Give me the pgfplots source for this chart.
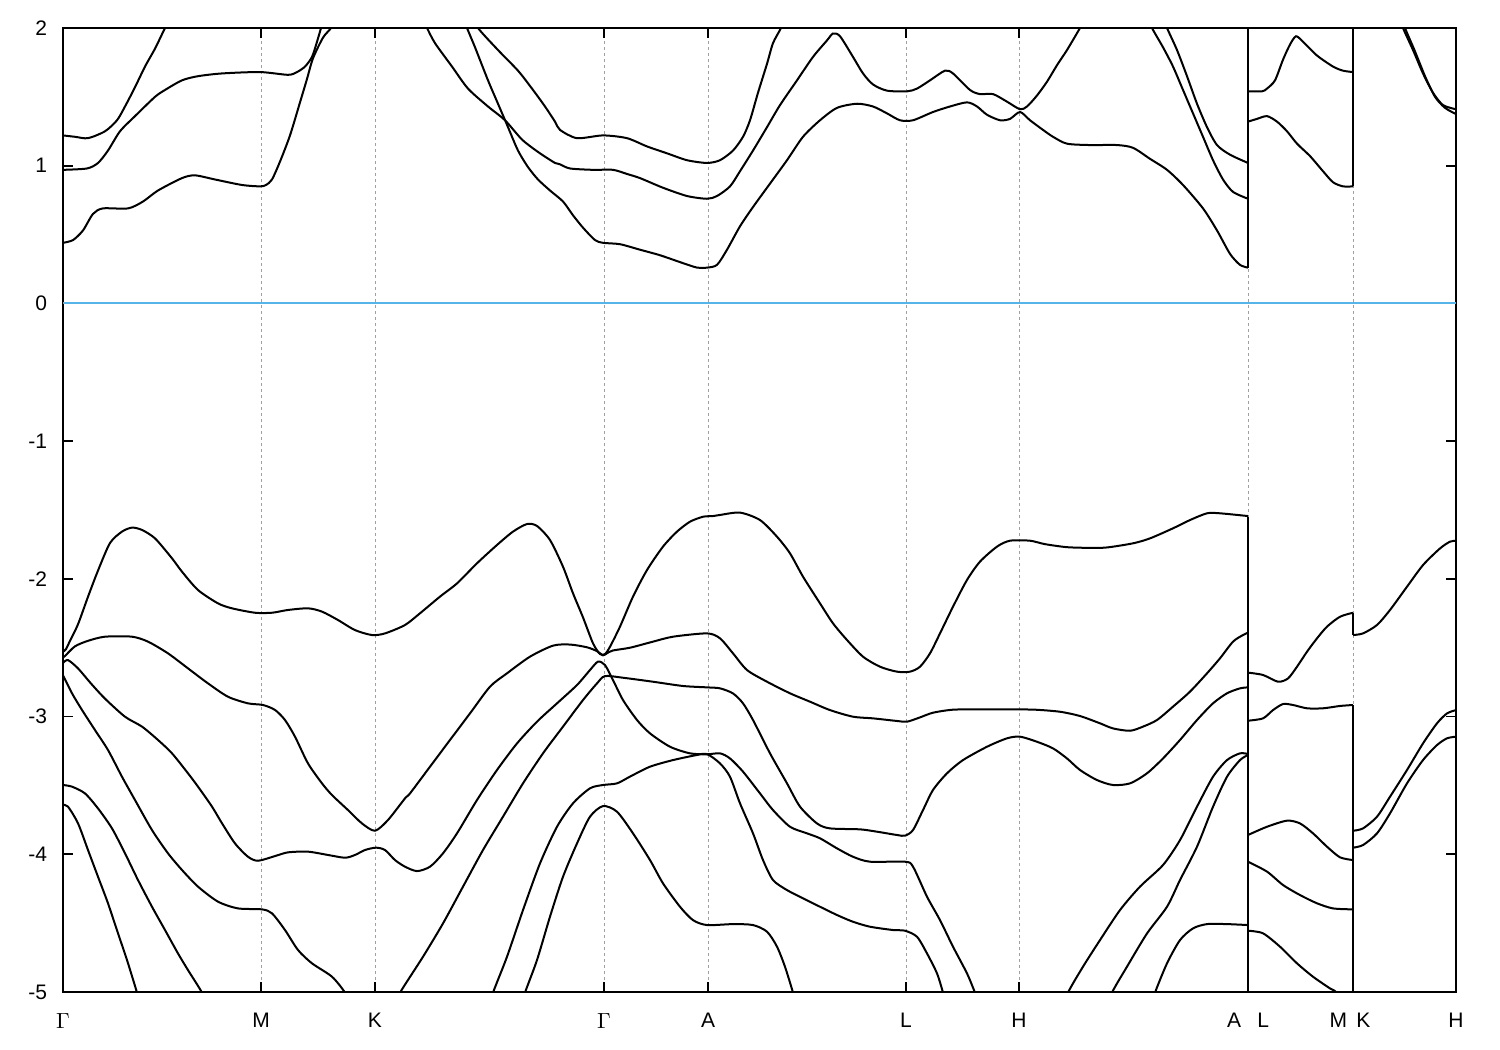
\documentclass[border=0pt]{standalone}
\usepackage{fontspec}
\setmainfont{Liberation Sans}
\usepackage{pgfplots}
\pgfplotsset{compat=1.18}
\definecolor{zeroblue}{RGB}{86,180,233}
\definecolor{gridgray}{RGB}{160,160,160}
\pgfplotsset{band/.style={black, line width=1pt, smooth, tension=0.45, mark=none}}
\begin{document}
\begin{tikzpicture}
\useasboundingbox (0,0) rectangle (750pt,525pt);
\begin{axis}[
  at={(31.5pt,29pt)}, anchor=south west,
  scale only axis, width=696.5pt, height=482pt,
  xmin=63, xmax=1456, ymin=-5, ymax=2,
  axis line style={line width=1pt},
  xtick={63,261,375,604,708,906,1019,1248,1353,1456},
  xticklabels={$\Gamma$,M,K,$\Gamma$,A,L,H,{\llap{A\hspace{3.5pt}}\rlap{\hspace{4.7pt}L}},{\llap{M\hspace{3pt}}\rlap{\hspace{1.7pt}K}},H},
  ytick={-5,-4,-3,-2,-1,0,1,2},
  yticklabels={-5,-4,-3,-2,-1,0,1,2},
  tick align=inside, major tick length=5pt,
  tick style={black, line width=0.8pt},
  xmajorgrids,
  grid style={gridgray, line width=0.5pt, dash pattern=on 1.5pt off 1.5pt},
  ticklabel style={font=\fontsize{10.5}{12}\selectfont},
  yticklabel style={xshift=-4.5pt},
  xticklabel style={yshift=-7pt},
  clip=true,
]
% zero line
\addplot[zeroblue, line width=1pt] coordinates {(63,0) (1456,0)};
% vertical jump lines
\addplot[black, line width=1pt] coordinates {(1248,0.26) (1248,2.05)};
\addplot[black, line width=1pt] coordinates {(1248,-1.55) (1248,-5.05)};
\addplot[black, line width=1pt] coordinates {(1353,0.85) (1353,2.05)};
\addplot[black, line width=1pt] coordinates {(1353,-2.246) (1353,-2.408)};
\addplot[black, line width=1pt] coordinates {(1353,-2.916) (1353,-5.05)};
% ---------------- conduction bands ----------------
\addplot[band] coordinates {(63,0.44)(73,0.46)(83,0.53)(93,0.65)(103,0.69)(128,0.69)(143,0.74)(158,0.82)(182,0.91)(195,0.93)(215,0.90)(242,0.86)(260,0.85)(266,0.86)(272,0.90)(280,1.03)(290,1.22)(300,1.46)(307,1.63)(313,1.78)(323,1.93)(331,2.0)(336,2.08)};
\addplot[band] coordinates {(63,0.97)(87,0.98)(98,1.02)(108,1.11)(120,1.25)(135,1.36)(155,1.50)(165,1.55)(182,1.62)(198,1.65)(222,1.67)(260,1.68)(288,1.66)(297,1.68)(305,1.72)(312,1.79)(317,1.90)(321,2.0)(324,2.08)};
\addplot[band] coordinates {(63,1.22)(75,1.21)(88,1.20)(105,1.25)(117,1.33)(125,1.43)(135,1.57)(145,1.72)(155,1.85)(165,2.0)(170,2.07)};
\addplot[band] coordinates {(420,2.1)(427,2.0)(435,1.89)(452,1.72)(468,1.56)(488,1.43)(505,1.33)(522,1.19)(538,1.10)(555,1.02)(560,1.01)(570,0.98)(593,0.97)(613,0.97)(627,0.94)(640,0.91)(663,0.84)(687,0.78)(707,0.76)(717,0.78)(730,0.85)(740,0.96)(753,1.11)(767,1.28)(780,1.44)(797,1.62)(813,1.79)(827,1.91)(833,1.96)(840,1.94)(853,1.79)(863,1.67)(873,1.59)(887,1.545)(907,1.54)(917,1.56)(930,1.62)(945,1.69)(953,1.67)(970,1.55)(980,1.52)(993,1.52)(1007,1.465)(1020,1.41)(1027,1.43)(1037,1.51)(1047,1.61)(1057,1.73)(1067,1.84)(1080,2.0)(1086,2.08)};
\addplot[band] coordinates {(462,2.1)(467,2.0)(475,1.86)(488,1.62)(498,1.45)(508,1.28)(518,1.11)(528,0.99)(538,0.90)(550,0.82)(563,0.74)(573,0.64)(583,0.55)(595,0.46)(603,0.44)(620,0.43)(640,0.39)(660,0.35)(680,0.30)(697,0.26)(707,0.26)(717,0.28)(727,0.39)(740,0.56)(753,0.70)(770,0.87)(787,1.04)(803,1.21)(820,1.33)(837,1.42)(857,1.45)(873,1.43)(887,1.38)(900,1.33)(913,1.33)(933,1.39)(950,1.43)(967,1.46)(977,1.43)(987,1.37)(1000,1.33)(1010,1.34)(1020,1.39)(1030,1.33)(1043,1.26)(1053,1.21)(1067,1.16)(1090,1.15)(1117,1.15)(1133,1.13)(1150,1.05)(1167,0.97)(1183,0.86)(1203,0.69)(1217,0.53)(1230,0.36)(1240,0.28)(1248,0.26)};
\addplot[band] coordinates {(472,2.1)(478,2.0)(498,1.84)(518,1.69)(532,1.56)(545,1.43)(555,1.32)(560,1.26)(577,1.20)(603,1.22)(627,1.20)(647,1.14)(667,1.09)(687,1.04)(707,1.02)(720,1.04)(733,1.11)(743,1.21)(750,1.33)(758,1.53)(767,1.74)(773,1.89)(781,2.0)(785,2.08)};
\addplot[band] coordinates {(1148,2.08)(1152,2.0)(1163,1.86)(1173,1.72)(1183,1.55)(1193,1.38)(1203,1.21)(1213,1.04)(1223,0.90)(1233,0.81)(1248,0.76)};
\addplot[band] coordinates {(1163,2.08)(1167,2.0)(1177,1.84)(1187,1.65)(1197,1.45)(1207,1.28)(1217,1.15)(1230,1.08)(1248,1.02)};
\addplot[band] coordinates {(1248,1.54)(1262,1.54)(1267,1.56)(1275,1.62)(1283,1.77)(1290,1.88)(1296,1.94)(1303,1.90)(1317,1.80)(1333,1.72)(1343,1.69)(1353,1.68)};
\addplot[band] coordinates {(1248,1.32)(1257,1.34)(1267,1.36)(1277,1.32)(1287,1.25)(1297,1.16)(1310,1.07)(1323,0.96)(1333,0.88)(1343,0.85)(1353,0.85)};
\addplot[band] coordinates {(1400,2.08)(1403,2.0)(1413,1.84)(1423,1.67)(1433,1.53)(1443,1.44)(1456,1.41)};
\addplot[band] coordinates {(1402,2.08)(1405,2.0)(1415,1.83)(1425,1.65)(1435,1.50)(1445,1.42)(1456,1.375)};
% ---------------- valence bands ----------------
\addplot[band] coordinates {(63,-2.53)(66,-2.51)(70,-2.45)(78,-2.33)(88,-2.13)(98,-1.94)(110,-1.74)(122,-1.657)(132,-1.628)(142,-1.645)(155,-1.706)(172,-1.851)(182,-1.948)(198,-2.081)(218,-2.178)(232,-2.214)(255,-2.246)(272,-2.246)(288,-2.226)(308,-2.214)(322,-2.238)(338,-2.299)(355,-2.372)(372,-2.408)(385,-2.396)(405,-2.335)(420,-2.250)(440,-2.129)(457,-2.033)(477,-1.887)(497,-1.754)(513,-1.657)(527,-1.602)(537,-1.616)(550,-1.718)(563,-1.912)(573,-2.105)(583,-2.28)(593,-2.468)(600,-2.546)(605,-2.546)(610,-2.493)(620,-2.347)(633,-2.129)(647,-1.936)(663,-1.766)(677,-1.657)(690,-1.585)(703,-1.549)(713,-1.544)(720,-1.536)(740,-1.519)(760,-1.573)(777,-1.694)(790,-1.815)(803,-1.984)(820,-2.178)(833,-2.323)(847,-2.444)(863,-2.565)(880,-2.638)(897,-2.674)(910,-2.674)(920,-2.638)(930,-2.541)(940,-2.396)(953,-2.202)(967,-2.008)(980,-1.875)(997,-1.766)(1010,-1.723)(1030,-1.723)(1045,-1.748)(1067,-1.770)(1090,-1.775)(1107,-1.772)(1133,-1.742)(1150,-1.706)(1173,-1.633)(1190,-1.573)(1207,-1.524)(1220,-1.524)(1248,-1.544)};
\addplot[band] coordinates {(63,-2.57)(65,-2.56)(75,-2.49)(88,-2.45)(105,-2.42)(132,-2.42)(148,-2.456)(168,-2.541)(188,-2.650)(208,-2.759)(228,-2.856)(248,-2.904)(263,-2.916)(275,-2.952)(285,-3.025)(295,-3.146)(308,-3.340)(322,-3.485)(332,-3.570)(348,-3.679)(362,-3.776)(375,-3.829)(388,-3.751)(405,-3.594)(410,-3.558)(430,-3.364)(450,-3.170)(470,-2.977)(490,-2.783)(507,-2.686)(530,-2.565)(553,-2.485)(570,-2.477)(587,-2.497)(597,-2.525)(603,-2.555)(607,-2.54)(613,-2.52)(630,-2.50)(653,-2.456)(673,-2.420)(707,-2.396)(720,-2.432)(733,-2.541)(747,-2.662)(767,-2.747)(790,-2.831)(810,-2.892)(830,-2.953)(853,-3.001)(873,-3.013)(897,-3.032)(907,-3.037)(920,-3.006)(933,-2.972)(953,-2.950)(980,-2.948)(1010,-2.948)(1035,-2.950)(1060,-2.965)(1080,-2.996)(1100,-3.049)(1113,-3.086)(1130,-3.103)(1143,-3.073)(1157,-3.025)(1173,-2.928)(1190,-2.819)(1207,-2.686)(1220,-2.577)(1233,-2.456)(1243,-2.408)(1248,-2.391)};
\addplot[band] coordinates {(63,-2.61)(68,-2.59)(78,-2.65)(91,-2.76)(105,-2.87)(125,-3.001)(142,-3.073)(158,-3.170)(172,-3.267)(188,-3.412)(198,-3.509)(212,-3.654)(222,-3.775)(235,-3.921)(248,-4.018)(258,-4.047)(275,-4.013)(288,-3.986)(308,-3.981)(328,-4.005)(345,-4.025)(355,-4.005)(365,-3.969)(376,-3.952)(385,-3.969)(395,-4.042)(405,-4.090)(417,-4.122)(430,-4.090)(443,-3.993)(457,-3.848)(477,-3.606)(497,-3.388)(517,-3.195)(537,-3.037)(557,-2.904)(577,-2.771)(590,-2.662)(598,-2.601)(605,-2.626)(613,-2.735)(623,-2.880)(637,-3.025)(650,-3.122)(670,-3.219)(690,-3.267)(707,-3.274)(720,-3.267)(730,-3.304)(743,-3.400)(760,-3.558)(773,-3.679)(790,-3.800)(807,-3.848)(820,-3.884)(837,-3.957)(853,-4.018)(870,-4.054)(905,-4.054)(913,-4.090)(927,-4.308)(940,-4.478)(953,-4.671)(967,-4.865)(975,-5.005)(980,-5.1)};
\addplot[band] coordinates {(63,-2.70)(72,-2.831)(82,-2.952)(95,-3.098)(108,-3.243)(122,-3.437)(135,-3.606)(152,-3.824)(168,-3.993)(182,-4.114)(198,-4.235)(218,-4.344)(238,-4.393)(262,-4.400)(272,-4.429)(285,-4.550)(298,-4.695)(312,-4.792)(332,-4.889)(345,-5.005)(350,-5.1)};
\addplot[band] coordinates {(395,-5.1)(400,-5.005)(423,-4.744)(443,-4.502)(463,-4.235)(483,-3.969)(503,-3.727)(523,-3.485)(543,-3.267)(563,-3.073)(583,-2.880)(597,-2.759)(605,-2.706)(623,-2.718)(653,-2.747)(683,-2.778)(707,-2.788)(720,-2.795)(733,-2.832)(743,-2.904)(753,-3.025)(770,-3.267)(787,-3.485)(800,-3.654)(817,-3.776)(830,-3.812)(860,-3.819)(877,-3.836)(897,-3.860)(905,-3.865)(913,-3.824)(923,-3.679)(933,-3.533)(947,-3.412)(963,-3.316)(987,-3.219)(1007,-3.158)(1020,-3.146)(1037,-3.183)(1053,-3.231)(1067,-3.304)(1080,-3.388)(1097,-3.461)(1113,-3.497)(1130,-3.485)(1147,-3.412)(1163,-3.304)(1180,-3.170)(1197,-3.025)(1213,-2.904)(1227,-2.831)(1240,-2.795)(1248,-2.788)};
\addplot[band] coordinates {(63,-3.497)(72,-3.509)(85,-3.558)(98,-3.667)(112,-3.812)(125,-3.993)(138,-4.187)(152,-4.381)(165,-4.550)(178,-4.720)(188,-4.841)(202,-5.005)(206,-5.1)};
\addplot[band] coordinates {(490,-5.1)(493,-5.005)(507,-4.744)(523,-4.405)(540,-4.066)(557,-3.800)(573,-3.630)(590,-3.521)(603,-3.497)(617,-3.485)(630,-3.436)(650,-3.364)(673,-3.316)(697,-3.279)(707,-3.272)(720,-3.340)(730,-3.437)(740,-3.630)(753,-3.848)(763,-4.042)(773,-4.187)(787,-4.260)(803,-4.320)(820,-4.381)(837,-4.441)(853,-4.490)(870,-4.526)(893,-4.550)(905,-4.555)(917,-4.599)(927,-4.720)(937,-4.865)(943,-5.005)(946,-5.1)};
\addplot[band] coordinates {(63,-3.642)(68,-3.654)(78,-3.775)(88,-3.969)(98,-4.163)(108,-4.356)(118,-4.574)(127,-4.768)(137,-5.005)(140,-5.1)};
\addplot[band] coordinates {(522,-5.1)(525,-5.005)(537,-4.768)(550,-4.453)(563,-4.163)(577,-3.921)(590,-3.727)(603,-3.650)(617,-3.691)(633,-3.848)(650,-4.042)(663,-4.211)(680,-4.381)(693,-4.478)(707,-4.514)(733,-4.507)(753,-4.514)(767,-4.562)(777,-4.671)(785,-4.817)(793,-5.005)(796,-5.1)};
\addplot[band] coordinates {(1066,-5.1)(1068,-5.005)(1083,-4.816)(1100,-4.623)(1120,-4.405)(1140,-4.235)(1163,-4.078)(1180,-3.897)(1197,-3.654)(1213,-3.437)(1227,-3.316)(1240,-3.267)(1248,-3.272)};
\addplot[band] coordinates {(1110,-5.1)(1112,-5.005)(1127,-4.816)(1147,-4.575)(1167,-4.381)(1180,-4.187)(1197,-3.945)(1213,-3.655)(1227,-3.437)(1240,-3.316)(1248,-3.279)};
\addplot[band] coordinates {(1152,-5.1)(1155,-5.005)(1167,-4.792)(1180,-4.623)(1193,-4.538)(1207,-4.507)(1227,-4.507)(1248,-4.514)};
% segment L-M
\addplot[band] coordinates {(1248,-2.681)(1263,-2.698)(1278,-2.747)(1288,-2.723)(1297,-2.638)(1307,-2.529)(1317,-2.432)(1327,-2.347)(1340,-2.275)(1353,-2.246)};
\addplot[band] coordinates {(1248,-3.030)(1263,-3.013)(1273,-2.953)(1283,-2.909)(1293,-2.916)(1307,-2.940)(1323,-2.940)(1340,-2.923)(1353,-2.916)};
\addplot[band] coordinates {(1248,-3.860)(1267,-3.800)(1287,-3.756)(1300,-3.776)(1313,-3.848)(1327,-3.945)(1340,-4.022)(1353,-4.042)};
\addplot[band] coordinates {(1248,-4.054)(1267,-4.126)(1283,-4.223)(1300,-4.296)(1317,-4.356)(1333,-4.393)(1353,-4.400)};
\addplot[band] coordinates {(1248,-4.555)(1263,-4.574)(1280,-4.671)(1297,-4.792)(1313,-4.889)(1330,-4.974)(1337,-5.005)(1341,-5.1)};
% segment K-H
\addplot[band] coordinates {(1353,-2.408)(1363,-2.396)(1377,-2.335)(1390,-2.226)(1407,-2.057)(1423,-1.900)(1440,-1.779)(1450,-1.730)(1456,-1.723)};
\addplot[band] coordinates {(1353,-3.829)(1363,-3.812)(1377,-3.727)(1390,-3.582)(1407,-3.388)(1423,-3.195)(1437,-3.049)(1447,-2.977)(1456,-2.953)};
\addplot[band] coordinates {(1353,-3.952)(1363,-3.933)(1377,-3.848)(1390,-3.703)(1407,-3.485)(1423,-3.316)(1437,-3.207)(1447,-3.158)(1456,-3.146)};
\end{axis}
\end{tikzpicture}
\end{document}
